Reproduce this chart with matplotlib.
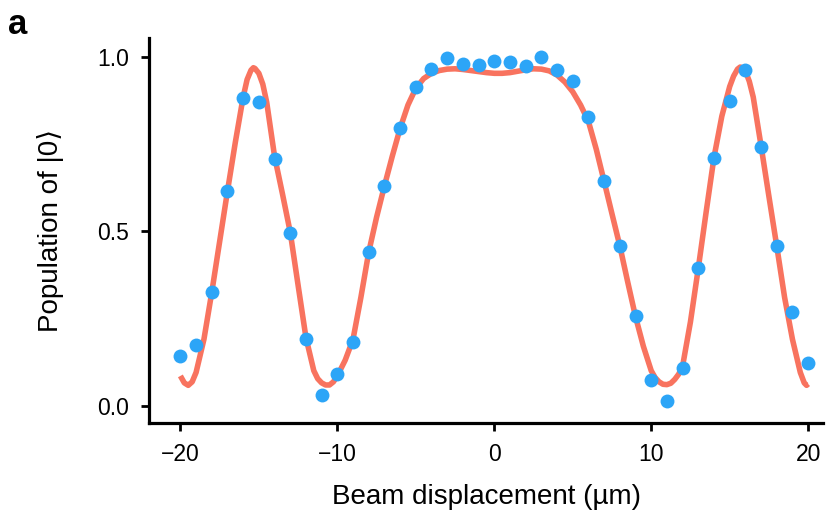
import matplotlib
matplotlib.use("Agg")
import matplotlib.pyplot as plt

# measured populations at each beam displacement (µm)
disp = list(range(-20, 21))
population = [
    0.142, 0.174, 0.326, 0.615, 0.883, 0.871, 0.706, 0.495, 0.192, 0.031,
    0.091, 0.183, 0.440, 0.630, 0.795, 0.915, 0.966, 0.998, 0.981, 0.978,
    0.987, 0.985, 0.975, 1.001, 0.962, 0.932, 0.827, 0.643, 0.458, 0.256,
    0.074, 0.013, 0.108, 0.394, 0.711, 0.874, 0.963, 0.741, 0.458, 0.268,
    0.121,
]

# fitted curve
fit_x = [
    -20.0, -19.75, -19.5, -19.25, -19.0, -18.5, -18.0, -17.5, -17.0, -16.5,
    -16.0, -15.75, -15.5, -15.35, -15.25, -15.0, -14.75, -14.5, -14.0, -13.5,
    -13.0, -12.5, -12.0, -11.5, -11.25, -11.0, -10.75, -10.5, -10.25, -10.0,
    -9.5, -9.0, -8.5, -8.0, -7.5, -7.0, -6.5, -6.0, -5.5, -5.0,
    -4.5, -4.0, -3.5, -3.0, -2.5, -2.0, -1.5, -1.0, -0.5, 0.0,
    0.5, 1.0, 1.5, 2.0, 2.5, 3.0, 3.5, 4.0, 4.5, 5.0,
    5.5, 6.0, 6.5, 7.0, 7.5, 8.0, 8.5, 9.0, 9.5, 10.0,
    10.25, 10.5, 10.75, 11.0, 11.25, 11.5, 11.75, 12.0, 12.5, 13.0,
    13.5, 14.0, 14.5, 15.0, 15.25, 15.5, 15.67, 15.85, 16.0, 16.25,
    16.5, 17.0, 17.5, 18.0, 18.5, 19.0, 19.5, 19.75, 19.9, 20.0,
]
fit_y = [
    0.085, 0.065, 0.058, 0.068, 0.095, 0.190, 0.325, 0.470, 0.615, 0.755,
    0.885, 0.935, 0.962, 0.969, 0.967, 0.953, 0.922, 0.870, 0.715, 0.608,
    0.497, 0.345, 0.195, 0.100, 0.077, 0.065, 0.059, 0.059, 0.068, 0.085,
    0.130, 0.190, 0.310, 0.440, 0.540, 0.630, 0.715, 0.795, 0.862, 0.910,
    0.938, 0.953, 0.961, 0.965, 0.966, 0.964, 0.961, 0.958, 0.955, 0.953,
    0.953, 0.955, 0.959, 0.963, 0.966, 0.965, 0.960, 0.948, 0.928, 0.900,
    0.862, 0.815, 0.735, 0.643, 0.550, 0.458, 0.355, 0.255, 0.170, 0.100,
    0.080, 0.068, 0.061, 0.060, 0.064, 0.075, 0.090, 0.113, 0.240, 0.394,
    0.555, 0.712, 0.830, 0.915, 0.945, 0.965, 0.971, 0.968, 0.960, 0.930,
    0.885, 0.745, 0.600, 0.457, 0.310, 0.190, 0.095, 0.065, 0.058, 0.062,
]

xticks = [-20, -10, 0, 10, 20]
yticks = [0.0, 0.5, 1.0]

plt.rcParams["font.family"] = ["Liberation Sans", "DejaVu Sans"]

fig = plt.figure(figsize=(8.39, 5.22), dpi=100)
ax = fig.add_axes([0.1776, 0.1897, 0.8034, 0.7373])

ax.plot(fit_x, fit_y, color="#f8735f", linewidth=4.0, solid_capstyle="butt",
        solid_joinstyle="round", zorder=2)
ax.plot(disp, population, "o", color="#2ca5f7", markersize=10,
        markeredgewidth=0, zorder=3)

ax.set_xlim(-22.0, 20.95)
ax.set_ylim(-0.05, 1.054)
ax.set_xticks(xticks)
ax.set_yticks(yticks)
ax.set_yticklabels([f"{t:.1f}" for t in yticks])

for side in ["top", "right"]:
    ax.spines[side].set_visible(False)
for side in ["left", "bottom"]:
    ax.spines[side].set_linewidth(2.3)

ax.tick_params(axis="both", direction="out", length=5.5, width=2.0,
               labelsize=16.5, colors="black")
ax.tick_params(axis="y", pad=9)
ax.tick_params(axis="x", pad=9)

ax.set_xlabel("Beam displacement (µm)", fontsize=20, labelpad=13)
ax.set_ylabel("Population of |0⟩", fontsize=20, labelpad=24)

fig.text(0.010, 0.985, "a", fontsize=25, fontweight="bold", va="top", ha="left")

fig.savefig("out.png", dpi=100)
